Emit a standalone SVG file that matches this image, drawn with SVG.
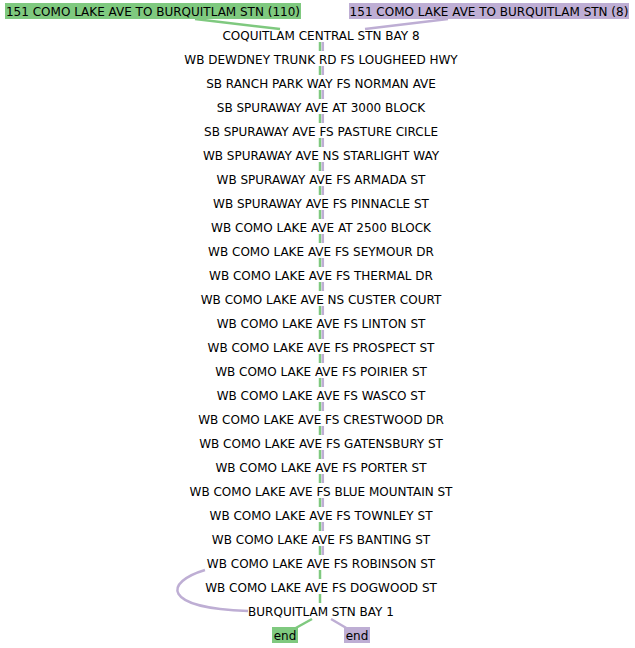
<svg xmlns="http://www.w3.org/2000/svg" width="635" height="648" viewBox="0 0 635 648">
<style>
text{font-family:"DejaVu Sans",sans-serif;font-size:12px;fill:#000;text-anchor:middle}
.g{stroke:#7fc97f;stroke-width:2.5;fill:none}
.p{stroke:#beaed4;stroke-width:2.5;fill:none}
.gb{fill:#7fc97f}
.pb{fill:#beaed4}
</style>
<rect width="635" height="648" fill="#fff"/>
<g id="connectors">
<line class="g" x1="195" y1="19" x2="280" y2="29"/>
<line class="p" x1="448" y1="19" x2="365" y2="29"/>
<path class="g" d="M320,42V51M320,66V75M320,90V99M320,114V123M320,138V147M320,162V171M320,186V195M320,210V219M320,234V243M320,258V267M320,282V291M320,306V315M320,330V339M320,354V363M320,378V387M320,402V411M320,426V435M320,450V459M320,474V483M320,498V507M320,522V531M320,546V555M320,570V579M320,594V603"/>
<path class="p" d="M322.8,42V51M322.8,66V75M322.8,90V99M322.8,114V123M322.8,138V147M322.8,162V171M322.8,186V195M322.8,210V219M322.8,234V243M322.8,258V267M322.8,282V291M322.8,306V315M322.8,330V339M322.8,354V363M322.8,378V387M322.8,402V411M322.8,426V435M322.8,450V459M322.8,474V483M322.8,498V507M322.8,522V531M322.8,546V555"/>
<path class="p" d="M205,570C165,582 160,608 248,611"/>
<line class="g" x1="312" y1="619" x2="294" y2="629"/>
<line class="p" x1="331" y1="619" x2="348" y2="629"/>
</g>
<g id="route110"><rect class="gb" x="5" y="3" width="296" height="16"/><text x="153" y="15.5">151 COMO LAKE AVE TO BURQUITLAM STN (110)</text></g>
<g id="route8"><rect class="pb" x="349" y="3" width="280" height="16"/><text x="489" y="15.5">151 COMO LAKE AVE TO BURQUITLAM STN (8)</text></g>
<g id="s0"><text x="321" y="39.5">COQUITLAM CENTRAL STN BAY 8</text></g>
<g id="s1"><text x="321" y="63.5">WB DEWDNEY TRUNK RD FS LOUGHEED HWY</text></g>
<g id="s2"><text x="321" y="87.5">SB RANCH PARK WAY FS NORMAN AVE</text></g>
<g id="s3"><text x="321" y="111.5">SB SPURAWAY AVE AT 3000 BLOCK</text></g>
<g id="s4"><text x="321" y="135.5">SB SPURAWAY AVE FS PASTURE CIRCLE</text></g>
<g id="s5"><text x="321" y="159.5">WB SPURAWAY AVE NS STARLIGHT WAY</text></g>
<g id="s6"><text x="321" y="183.5">WB SPURAWAY AVE FS ARMADA ST</text></g>
<g id="s7"><text x="321" y="207.5">WB SPURAWAY AVE FS PINNACLE ST</text></g>
<g id="s8"><text x="321" y="231.5">WB COMO LAKE AVE AT 2500 BLOCK</text></g>
<g id="s9"><text x="321" y="255.5">WB COMO LAKE AVE FS SEYMOUR DR</text></g>
<g id="s10"><text x="321" y="279.5">WB COMO LAKE AVE FS THERMAL DR</text></g>
<g id="s11"><text x="321" y="303.5">WB COMO LAKE AVE NS CUSTER COURT</text></g>
<g id="s12"><text x="321" y="327.5">WB COMO LAKE AVE FS LINTON ST</text></g>
<g id="s13"><text x="321" y="351.5">WB COMO LAKE AVE FS PROSPECT ST</text></g>
<g id="s14"><text x="321" y="375.5">WB COMO LAKE AVE FS POIRIER ST</text></g>
<g id="s15"><text x="321" y="399.5">WB COMO LAKE AVE FS WASCO ST</text></g>
<g id="s16"><text x="321" y="423.5">WB COMO LAKE AVE FS CRESTWOOD DR</text></g>
<g id="s17"><text x="321" y="447.5">WB COMO LAKE AVE FS GATENSBURY ST</text></g>
<g id="s18"><text x="321" y="471.5">WB COMO LAKE AVE FS PORTER ST</text></g>
<g id="s19"><text x="321" y="495.5">WB COMO LAKE AVE FS BLUE MOUNTAIN ST</text></g>
<g id="s20"><text x="321" y="519.5">WB COMO LAKE AVE FS TOWNLEY ST</text></g>
<g id="s21"><text x="321" y="543.5">WB COMO LAKE AVE FS BANTING ST</text></g>
<g id="s22"><text x="321" y="567.5">WB COMO LAKE AVE FS ROBINSON ST</text></g>
<g id="s23"><text x="321" y="591.5">WB COMO LAKE AVE FS DOGWOOD ST</text></g>
<g id="s24"><text x="321" y="615.5">BURQUITLAM STN BAY 1</text></g>
<g id="end110"><rect class="gb" x="272" y="627" width="26" height="16"/><text x="285" y="639.5">end</text></g>
<g id="end8"><rect class="pb" x="344" y="627" width="26" height="16"/><text x="357" y="639.5">end</text></g>
</svg>
